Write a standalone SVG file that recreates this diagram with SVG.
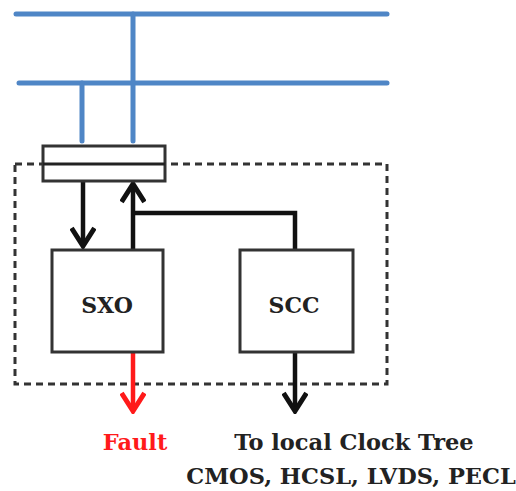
<svg xmlns="http://www.w3.org/2000/svg" width="516" height="491" viewBox="0 0 516 491">
  <style>
    .bus { stroke: #4f86c6; stroke-width: 5; stroke-linecap: round; fill: none; }
    .box { fill: #ffffff; stroke: #333333; stroke-width: 3; }
    .wire { stroke: #111111; stroke-width: 4.5; fill: none; }
    .fault { stroke: #ff1a1a; stroke-width: 4.5; fill: none; }
    .frame { fill: none; stroke: #333333; stroke-width: 3; stroke-dasharray: 7 5; }
    .label { font-family: "DejaVu Serif", "Liberation Serif", serif; font-weight: bold; font-size: 22px; text-anchor: middle; fill: #222222; }
    .note { font-family: "DejaVu Serif", "Liberation Serif", serif; font-weight: bold; font-size: 22.5px; text-anchor: middle; fill: #222222; }
  </style>
  <defs>
    <!-- open chevron head, drawn pointing along +x so orient="auto" follows the line -->
    <marker id="vHead" viewBox="0 0 24 26" refX="21" refY="13" markerWidth="24" markerHeight="26" markerUnits="userSpaceOnUse" orient="auto">
      <path d="M3 1.5 L21 13 L3 24.5" fill="none" stroke="#111111" stroke-width="5"/>
    </marker>
    <marker id="vHeadRed" viewBox="0 0 24 26" refX="21" refY="13" markerWidth="24" markerHeight="26" markerUnits="userSpaceOnUse" orient="auto">
      <path d="M3 1.5 L21 13 L3 24.5" fill="none" stroke="#ff1a1a" stroke-width="5"/>
    </marker>
  </defs>

  <!-- backplane bus lines -->
  <g id="bus">
    <line class="bus" x1="16" y1="14" x2="387" y2="14"/>
    <line class="bus" x1="19" y1="83" x2="387" y2="83"/>
    <line class="bus" x1="133" y1="14" x2="133" y2="141"/>
    <line class="bus" x1="82" y1="83" x2="82" y2="141"/>
  </g>

  <!-- module boundary -->
  <rect id="module" class="frame" x="15" y="164" width="372" height="220"/>

  <!-- connectors -->
  <g id="connectors">
    <line class="wire" x1="83" y1="182" x2="83" y2="246" marker-end="url(#vHead)"/>
    <line class="wire" x1="133" y1="249" x2="133" y2="184" marker-end="url(#vHead)"/>
    <polyline class="wire" points="133,213 295,213 295,249"/>
    <line class="fault" x1="133" y1="352" x2="133" y2="411" marker-end="url(#vHeadRed)"/>
    <line class="wire" x1="295" y1="352" x2="295" y2="411" marker-end="url(#vHead)"/>
  </g>

  <!-- connector block -->
  <g id="connector-block">
    <rect class="box" x="43" y="146" width="122" height="35"/>
    <line x1="43" y1="164" x2="165" y2="164" stroke="#222222" stroke-width="3"/>
  </g>

  <g id="sxo">
    <rect class="box" x="52" y="250" width="111" height="102"/>
    <text class="label" x="107" y="313">SXO</text>
  </g>

  <g id="scc">
    <rect class="box" x="240" y="250" width="113" height="102"/>
    <text class="label" x="294" y="313">SCC</text>
  </g>

  <g id="labels">
    <text class="note" x="135" y="450" style="fill:#ff1a1a">Fault</text>
    <text class="note" x="354" y="450">To local Clock Tree</text>
    <text class="note" x="351" y="484">CMOS, HCSL, LVDS, PECL</text>
  </g>
</svg>
